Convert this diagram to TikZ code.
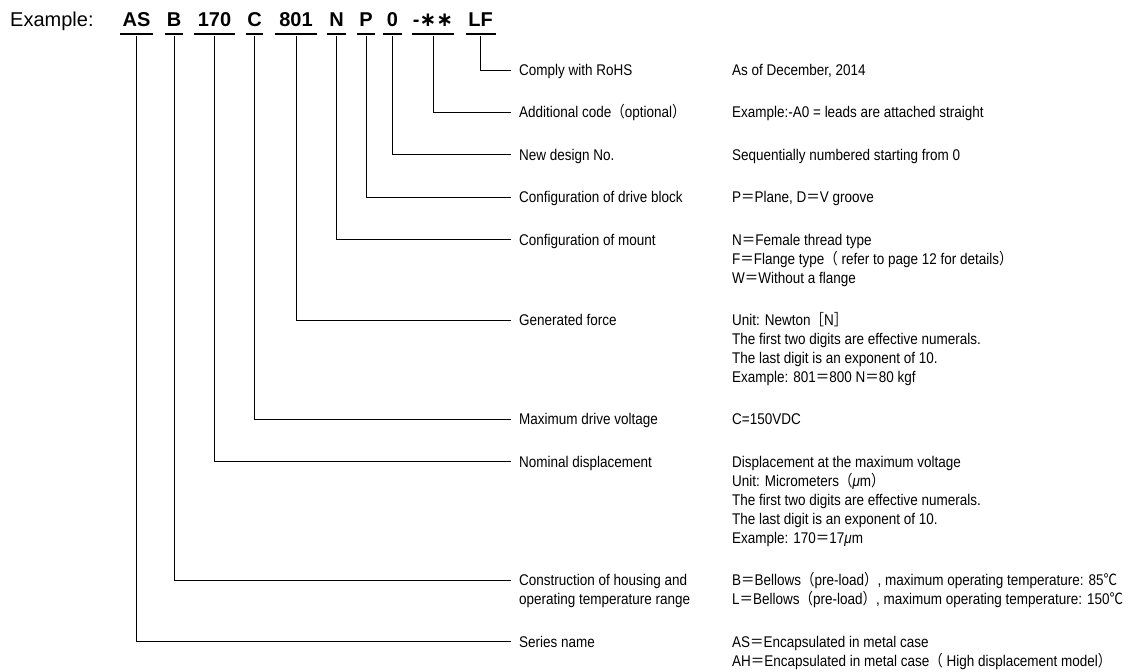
\documentclass[tikz,border=0pt]{standalone}
\usepackage{fontspec}
\setmainfont{Liberation Sans}
\newfontfamily\lblfont[FakeStretch=0.87]{Liberation Sans}
\newfontfamily\cjkfont[FakeStretch=0.87]{Noto Sans CJK JP}
\newfontfamily\djvfont{DejaVu Sans}
\newcommand\Lpar{{\cjkfont （}}
\newcommand\Rpar{{\cjkfont ）}}
\newcommand\Lbr{{\cjkfont ［}}
\newcommand\Rbr{{\cjkfont ］}}
\newcommand\Weq{{\cjkfont ＝}}
\newcommand\DegC{{\cjkfont ℃}}
\newcommand\mlines[1]{\begin{tabular}[t]{@{}l@{}}#1\end{tabular}}
\begin{document}
\begin{tikzpicture}[x=1pt,y=-1pt,
  titlefont/.style={font=\fontsize{20}{24}\selectfont, anchor=base west, inner sep=0pt},
  code/.style={font=\fontsize{20}{24}\selectfont\bfseries, anchor=base, inner sep=0pt, text depth=0pt},
  uline/.style={line width=1.5pt},
  conn/.style={line width=1pt, line cap=rect},
  lbl/.style={font=\lblfont\fontsize{15.5}{19}\selectfont, anchor=base west, inner sep=0pt},
  desc/.style={lbl}]
\useasboundingbox (0,0) rectangle (1130,672);

\node[titlefont] (ex) at (10,26) {Example:};

\node[code, minimum width=33pt] (cAS) at (136.5,26) {AS};
\node[code, minimum width=18pt] (cB) at (174,26) {B};
\node[code, minimum width=41pt] (c170) at (214.5,26) {170};
\node[code, minimum width=17pt] (cC) at (254.5,26) {C};
\node[code, minimum width=42pt] (c801) at (296,26) {801};
\node[code, minimum width=19pt] (cN) at (336.5,26) {N};
\node[code, minimum width=18pt] (cP) at (366,26) {P};
\node[code, minimum width=19pt] (c0) at (392.5,26) {0};
\node[code, minimum width=42pt] (cX) at (433,26) {-{\djvfont\bfseries ∗∗}};
\node[code, minimum width=30pt] (cLF) at (480.7,26) {LF};

\foreach \n in {cAS,cB,c170,cC,c801,cN,cP,c0,cX,cLF}
  \draw[uline] ([yshift=-8pt]\n.base west) -- ([yshift=-8pt]\n.base east);

% labels (baseline = row centre + 5.5)
\node[lbl] (lRoHS) at (519,75.5) {Comply with RoHS};
\node[lbl] (lAdd)  at (519,117.9) {Additional code\Lpar optional\Rpar};
\node[lbl] (lNew)  at (519,160.3) {New design No.};
\node[lbl] (lDrv)  at (519,202.7) {Configuration of drive block};
\node[lbl] (lMnt)  at (519,245.1) {Configuration of mount};
\node[lbl] (lGen)  at (519,325.5) {Generated force};
\node[lbl] (lMax)  at (519,424.9) {Maximum drive voltage};
\node[lbl] (lNom)  at (519,467.3) {Nominal displacement};
\node[lbl] (lCon)  at (519,585.7) {\mlines{Construction of housing and\\operating temperature range}};
\node[lbl] (lSer)  at (519,647.1) {Series name};

% descriptions
\node[desc] (dRoHS) at (732,75.5) {As of December, 2014};
\node[desc] (dAdd)  at (732,117.9) {Example:-A0 = leads are attached straight};
\node[desc] (dNew)  at (732,160.3) {Sequentially numbered starting from 0};
\node[desc] (dDrv)  at (732,202.7) {P\Weq Plane, D\Weq V groove};
\node[desc] (dMnt)  at (732,245.1) {\mlines{N\Weq Female thread type\\F\Weq Flange type\Lpar\ refer to page 12 for details\Rpar\\W\Weq Without a flange}};
\node[desc] (dGen)  at (732,325.5) {\mlines{Unit: Newton\Lbr N\Rbr\\The first two digits are effective numerals.\\The last digit is an exponent of 10.\\Example: 801\Weq 800 N\Weq 80 kgf}};
\node[desc] (dMax)  at (732,424.9) {C=150VDC};
\node[desc] (dNom)  at (732,467.3) {\mlines{Displacement at the maximum voltage\\Unit: Micrometers\Lpar\textit{μ}m\Rpar\\The first two digits are effective numerals.\\The last digit is an exponent of 10.\\Example: 170\Weq 17\textit{μ}m}};
\node[desc] (dCon)  at (732,585.7) {\mlines{B\Weq Bellows\Lpar pre-load\Rpar, maximum operating temperature: 85\DegC\\L\Weq Bellows\Lpar pre-load\Rpar, maximum operating temperature: 150\DegC}};
\node[desc] (dSer)  at (732,647.1) {\mlines{AS\Weq Encapsulated in metal case\\AH\Weq Encapsulated in metal case\Lpar\ High displacement model\Rpar}};

% connectors
\foreach \c/\l in {cLF/lRoHS,cX/lAdd,c0/lNew,cP/lDrv,cN/lMnt,c801/lGen,cC/lMax,c170/lNom,cB/lCon,cAS/lSer}
  \draw[conn] ([yshift=-10pt]\c.base) |- ([shift={(-9pt,5.5pt)}]\l.base west);
\end{tikzpicture}
\end{document}
